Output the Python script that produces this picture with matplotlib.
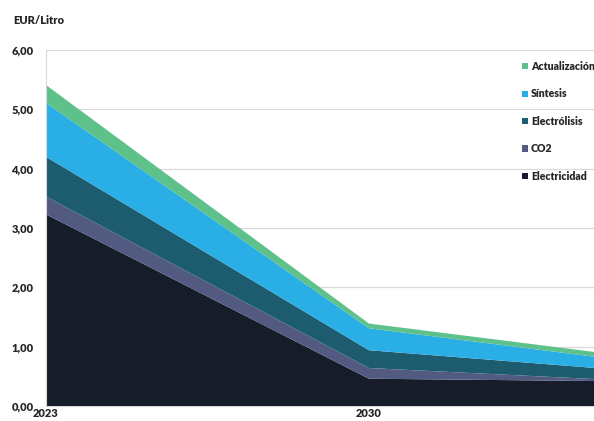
import matplotlib
matplotlib.use("Agg")
import matplotlib.pyplot as plt
from matplotlib.patches import Patch

years = [2023, 2030, 2035]
series_names = ["Electricidad", "CO2", "Electrólisis", "Síntesis", "Actualización"]
electricidad = [3.23, 0.46, 0.42]
co2 = [0.30, 0.18, 0.03]
electrolisis = [0.67, 0.30, 0.185]
sintesis = [0.91, 0.37, 0.185]
actualizacion = [0.30, 0.08, 0.08]
colors = ["#171c2a", "#525a82", "#1d5c6e", "#2aaee6", "#5ec18a"]
yticks = [0, 1, 2, 3, 4, 5, 6]
ytick_labels = ["0,00", "1,00", "2,00", "3,00", "4,00", "5,00", "6,00"]
xticks = [2023, 2030]
xtick_labels = ["2023", "2030"]

plt.rcParams['font.family'] = ['Lato', 'DejaVu Sans']
txt = "#262626"

fig = plt.figure(figsize=(5.94, 4.21), dpi=100)
ax = fig.add_axes([46/594, 1-406/421, 1-46/594, (406-50)/421])

ax.stackplot(years, electricidad, co2, electrolisis, sintesis, actualizacion,
             colors=colors, zorder=3, linewidth=0)
ax.set_xlim(2023, 2034.88)
ax.set_ylim(0, 6)
ax.set_yticks(yticks)
ax.set_yticklabels(ytick_labels)
ax.set_xticks(xticks)
ax.set_xticklabels(xtick_labels)
ax.grid(axis='y', color="#d9d9d9", linewidth=0.9, zorder=0)
ax.tick_params(length=0, labelsize=8, labelcolor=txt)
ax.tick_params(axis='y', pad=9)
ax.tick_params(axis='x', pad=1.5)
for lab in ax.get_xticklabels() + ax.get_yticklabels():
    lab.set_fontweight('heavy')
for s in ["top", "right"]:
    ax.spines[s].set_visible(False)
ax.spines["left"].set_color("#d9d9d9")
ax.spines["bottom"].set_color("#d9d9d9")
ax.spines["left"].set_zorder(4)

fig.text(13/594, 1-20/421, "EUR/Litro", fontsize=8, fontweight='heavy', color=txt,
         va='center', ha='left')

handles = [Patch(facecolor=c, edgecolor='none') for c in colors][::-1]
labels = series_names[::-1]
leg = fig.legend(handles, labels, loc='upper left', bbox_to_anchor=(522/594, 1-61/421),
                 frameon=False, prop={'weight': 'heavy', 'size': 7.6},
                 handlelength=0.55, handleheight=0.55, handletextpad=0.3,
                 labelspacing=1.56, borderaxespad=0, borderpad=0)
for t in leg.get_texts():
    t.set_color(txt)

fig.savefig("out.png", dpi=100)
